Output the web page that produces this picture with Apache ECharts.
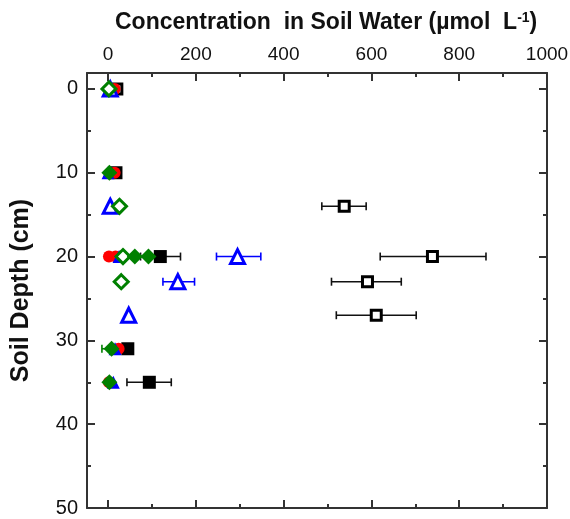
<!DOCTYPE html>
<html>
<head>
<meta charset="utf-8">
<script src="https://cdn.jsdelivr.net/npm/echarts@6/dist/echarts.min.js"></script>
<style>
  html, body { margin: 0; padding: 0; background: #fff; }
  #chart { width: 570px; height: 519px; }
</style>
</head>
<body>
<div id="chart"></div>
<script>
// tick labels
const xLabels = [0, 200, 400, 600, 800, 1000]
const xMinor = [100, 300, 500, 700, 900]
const yLabels = [0, 10, 20, 30, 40, 50]
const yMinor = [5, 15, 25, 35, 45]

// points: [concentration, depth]
const squareOpen = [[20, 0], [538, 14], [739, 20], [591, 23], [611, 27]]
const squareFilled = [[18, 10], [119, 20], [45, 31], [94, 35]]
const circleRed = [[15, 0], [15, 10], [2, 20], [17, 20], [24, 31], [2, 35]]
const triangleOpen = [[5, 0], [5, 14], [295, 20], [159, 23], [47, 27]]
const triangleFilled = [[0, 10], [25, 20], [16, 31], [12, 35]]
const diamondOpen = [[2, 0], [26, 14], [34, 20], [30, 23]]
const diamondFilled = [[3, 10], [61, 20], [92, 20], [8, 31], [3, 35]]

// error bars: [depth, low, high]
const squareOpenErr = [[14, 487, 588], [20, 620, 861], [23, 509, 668], [27, 520, 702]]
const squareFilledErr = [[20, 74, 165], [35, 43, 144]]
const triangleOpenErr = [[20, 247, 348], [23, 125, 197]]
const triangleFilledErr = [[31, 5, 35]]
const diamondFilledErr = [[31, -14, 30]]

const chart = echarts.init(document.getElementById('chart'))

const axisColor = '#333'
const font = 'Liberation Sans'

/**
 * 误差线
 */
const errorSeries = (data, color) => ({
  type: 'custom',
  data: data,
  encode: { x: [1, 2], y: 0 },
  z: 1,
  renderItem: (params, api) => {
    const y = api.value(0)
    const p1 = api.coord([api.value(1), y])
    const p2 = api.coord([api.value(2), y])
    const style = { stroke: color, lineWidth: 1.6 }
    return {
      type: 'group',
      children: [
        { type: 'line', shape: { x1: p1[0], y1: p1[1], x2: p2[0], y2: p2[1] }, style },
        { type: 'line', shape: { x1: p1[0], y1: p1[1] - 4, x2: p1[0], y2: p1[1] + 4 }, style },
        { type: 'line', shape: { x1: p2[0], y1: p2[1] - 4, x2: p2[0], y2: p2[1] + 4 }, style }
      ]
    }
  }
})

const markSeries = (data, symbol, size, color, open, z) => ({
  type: 'scatter',
  data: data,
  symbol: symbol,
  symbolSize: size,
  z: z,
  itemStyle: open
    ? { color: '#fff', borderColor: color, borderWidth: 3, opacity: 1 }
    : { color: color, opacity: 1 }
})

const xAxisBase = (position, ticks, len, labels) => ({
  type: 'value',
  position: position,
  min: -48,
  max: 1000,
  axisLine: { show: len > 5, onZero: false, lineStyle: { color: axisColor, width: 2 } },
  axisTick: { show: true, inside: true, length: len, customValues: ticks, lineStyle: { color: axisColor, width: 2 } },
  axisLabel: labels
    ? { show: true, customValues: labels, formatter: (v) => String(v), fontSize: 19, color: '#111', margin: 9, fontFamily: font }
    : { show: false },
  splitLine: { show: false }
})

const yAxisBase = (position, ticks, len, labels) => ({
  type: 'value',
  position: position,
  inverse: true,
  min: -1.9,
  max: 50,
  axisLine: { show: len > 5, onZero: false, lineStyle: { color: axisColor, width: 2 } },
  axisTick: { show: true, inside: true, length: len, customValues: ticks, lineStyle: { color: axisColor, width: 2 } },
  axisLabel: labels
    ? { show: true, customValues: labels, fontSize: 20, color: '#111', margin: 9, fontFamily: font }
    : { show: false },
  splitLine: { show: false }
})

const yMain = yAxisBase('left', yLabels, 8, yLabels)
yMain.name = 'Soil Depth (cm)'
yMain.nameLocation = 'middle'
yMain.nameRotate = 90
yMain.nameGap = 53
yMain.nameTextStyle = { fontSize: 25, fontWeight: 'bold', color: '#111', fontFamily: font }

const option = {
  animation: false,
  backgroundColor: '#fff',
  title: {
    text: '{a|Concentration  in Soil Water (µmol  L}{s|-1}{a|)}',
    left: 110,
    top: 6,
    textStyle: {
      rich: {
        a: { fontSize: 23, fontWeight: 'bold', color: '#111', fontFamily: font },
        s: { fontSize: 14, fontWeight: 'bold', color: '#111', fontFamily: font, verticalAlign: 'top', padding: [0, 0, 10, 0] }
      }
    }
  },
  grid: { left: 87, right: 23, top: 73, bottom: 11, outerBoundsMode: 'none' },
  xAxis: [
    xAxisBase('top', [0, 200, 400, 600, 800], 8, xLabels),
    xAxisBase('top', xMinor, 4, null),
    xAxisBase('bottom', [0, 200, 400, 600, 800], 8, null),
    xAxisBase('bottom', xMinor, 4, null)
  ],
  yAxis: [
    yMain,
    yAxisBase('left', yMinor, 4, null),
    yAxisBase('right', yLabels.slice(0, 5), 8, null),
    yAxisBase('right', yMinor, 4, null)
  ],
  series: [
    errorSeries(squareOpenErr, '#111'),
    errorSeries(squareFilledErr, '#111'),
    errorSeries(triangleOpenErr, '#0000ff'),
    errorSeries(triangleFilledErr, '#0000ff'),
    errorSeries(diamondFilledErr, '#008000'),
    markSeries(squareOpen, 'rect', 10, '#000', true, 2),
    markSeries(squareFilled, 'rect', 13, '#000', false, 2),
    markSeries(circleRed, 'circle', 12, '#ff0000', false, 3),
    markSeries(triangleOpen, 'triangle', 14, '#0000ff', true, 4),
    markSeries(triangleFilled, 'triangle', 13, '#0000ff', false, 4),
    markSeries(diamondOpen, 'diamond', 14, '#008000', true, 5),
    markSeries(diamondFilled, 'diamond', 16, '#008000', false, 5)
  ]
}

chart.setOption(option)

window.addEventListener('resize', () => chart.resize())
</script>
</body>
</html>
